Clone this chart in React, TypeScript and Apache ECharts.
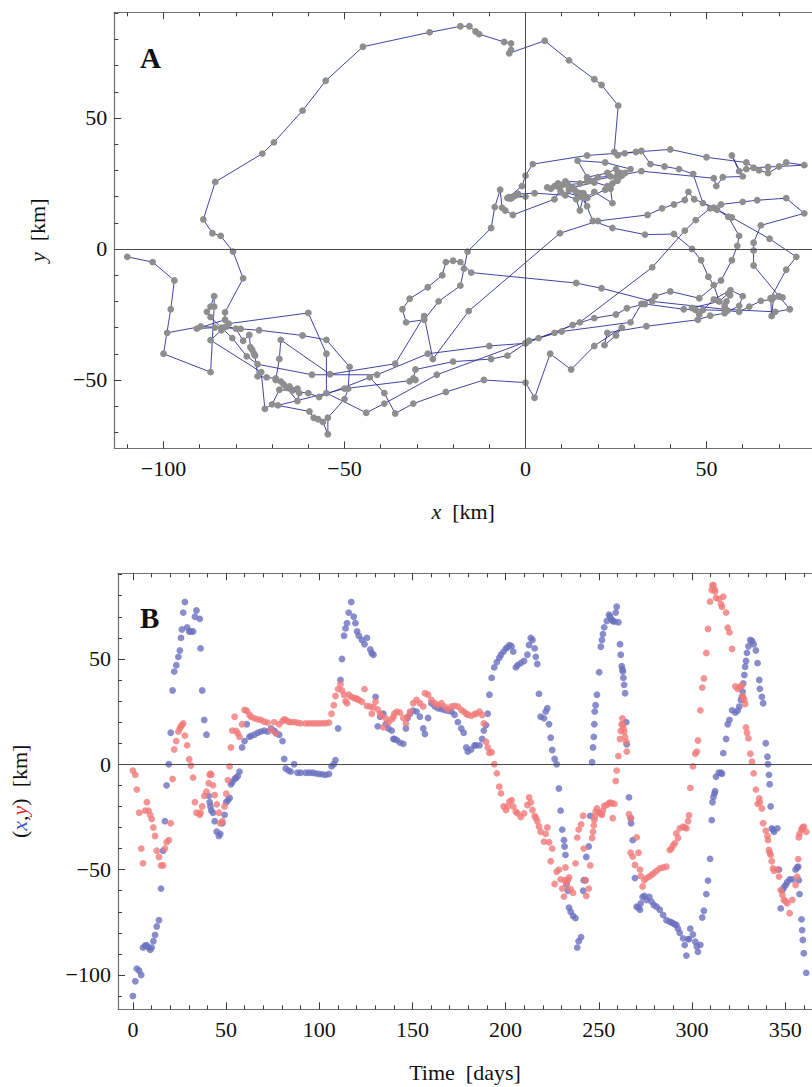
import React, { useEffect, useRef } from "react";
import * as echarts from "echarts";

// ---- data: time series of position (checked against panel A) ----
const days = [
  0, 1.3, 2.1, 3.4, 4.5, 5.4, 6.6, 7.5, 8.4, 9.3, 10.1, 11, 11.9, 12.8, 14, 15.1, 16.2, 17.2, 18.1, 19.3,
  20.3, 21.3, 22.2, 23.3, 24.4, 25.2, 25.8, 26.3, 27, 27.9, 29.1, 30.2, 31.1, 32.3, 33.3, 34.1, 35.9, 36.3, 37.2, 38.3,
  39.5, 40.7, 41.2, 41.6, 42.1, 43, 43.9, 45, 46.2, 46.9, 48, 49.2, 50.1, 51, 51.9, 52.6, 53.3, 54.6, 55.4, 56.3,
  57.2, 58.6, 59.9, 61.1, 62.5, 63.4, 65.2, 67, 68.7, 70.5, 72.3, 74.1, 75.8, 76.7, 78.5, 80.3, 81.2, 82, 83.5, 84.7,
  86.5, 88.3, 90, 92.7, 94.5, 96.3, 98, 99.8, 101.6, 103.4, 105.2, 106.6, 107.8, 108.7, 110.1, 111.4, 112.2, 113.3, 114.1, 114.9,
  115.8, 117.2, 118.5, 119.4, 120.3, 121.2, 122.9, 124.3, 125.6, 127.4, 128.2, 129.1, 130.2, 131.4, 132.7, 133.6, 134.4, 135.7, 137.1, 138.9,
  139.8, 140.3, 141.6, 143.3, 145.1, 146.5, 147.4, 148.7, 150.4, 152.2, 154, 155.8, 156.7, 158.4, 160.2, 162, 163.7, 165.5, 167.3, 169.1,
  170.9, 172.6, 174.4, 176.2, 177.5, 178.9, 179.7, 181.5, 183.3, 184.2, 186, 187.4, 188.3, 189.5, 190.4, 191.3, 192.5, 193.9, 195.3, 196.6,
  197.5, 198.9, 200.2, 201, 202, 203.2, 204.1, 205.5, 206.4, 208.1, 209.9, 211.7, 212.6, 213.5, 214.4, 215.6, 216.2, 217, 217.9, 218.8,
  220.6, 221.5, 222.4, 223.3, 224.2, 225, 226.3, 227.4, 228.6, 229.5, 230.4, 231.3, 231.6, 232.1, 232.7, 233.4, 234, 234.9, 236.2, 237.5,
  238.4, 239.2, 240.5, 241.6, 241.9, 242.8, 243.3, 244.6, 245.4, 246.4, 246.9, 247.3, 247.6, 247.8, 248.3, 249, 250.2, 251.1, 251.7, 252.2,
  252.9, 254.3, 255.5, 256.1, 257, 257.5, 258.4, 259.1, 259.6, 260.5, 261.4, 261.8, 262.3, 262.7, 262.9, 263.2, 263.6, 264.1, 264.7, 265,
  266.2, 267.1, 267.3, 268.2, 269.4, 270.3, 271.3, 272.1, 272.5, 273.5, 274.5, 275.6, 277.1, 278.3, 279.5, 281, 282.7, 284.5, 286.3, 288.1,
  289, 289.9, 290.8, 291.6, 292.5, 293.4, 295.2, 296.1, 297, 297.9, 298.4, 299.1, 300.5, 301.8, 302.6, 303.2, 304.5, 305.5, 306.4, 307.7,
  308.6, 309.7, 310.6, 311, 311.5, 312.1, 312.4, 312.9, 314.4, 315.6, 316.1, 316.8, 318.3, 319.2, 320.1, 321.5, 323.3, 324.5, 325.4, 326.3,
  326.8, 327.2, 327.5, 328.1, 328.5, 329, 329.5, 330.3, 331.3, 332.2, 333.1, 334.3, 335.2, 336.1, 336.4, 337.5, 338.2, 339.6, 340.5, 340.8,
  341.3, 341.7, 342.2, 342.8, 343.5, 344, 345.8, 346.7, 347.6, 348.5, 349.3, 350.3, 351.1, 352.4, 353.8, 355.6, 356.4, 357, 357.3, 357.7,
  358.8, 359.1, 359.5, 360, 361.3,
];

const xKm = [
  -110, -103, -97, -98, -100, -87, -86, -86, -87, -88, -87, -84, -81, -77, -74, -59, -41, -27, -10, 0,
  15, 35, 44, 47, 51, 54, 60, 64, 72, 77, 65, 63, 63, 63, 70, 73, 69, 55, 35, 21,
  14, -15, -18, -20, -22, -23, -27, -32, -34, -33, -28, -24, -18, -17, -16, -9.5, -8.5, -7, -6.5, -5.6,
  -3.5, 8, 11, 19, 13, 13.5, 14, 15, 15.5, 16, 15.5, 17, 16, 15, 14, 11, 2.5, -2, -3, -3.5,
  0, -4, -4, -4, -4, -4, -4.3, -4.6, -4.8, -5, -4.6, -1, 0, 2, 17, 40, 50, 61, 64.5, 67,
  72, 77, 70, 67, 63, 61, 59, 57, 60, 54.5, 52.7, 52, 32, 18, 22.6, 23.5, 24, 19, 17, 16,
  12, 12, 11.5, 10.3, 9.7, 17, 22, 24, 25.5, 25, 22.6, 17, 14.4, 22, 29, 27.5, 26.6, 26.2, 25.8, 25.4,
  25, 23.5, 20, 17, 15, 8, 6, 7, 9, 9, 9, 12, 16, 18.6, 24, 33, 41, 46, 48.5, 50.5,
  52, 53.5, 55, 55.5, 56.5, 56, 53.5, 46, 47, 48, 49, 52, 56.6, 60, 59, 55, 51, 47.6, 33.4, 22.6,
  21.8, 25, 26.6, 19, 12.6, 6.8, 2.5, 0, -11.5, -22, -31, -36, -39, -43, -57, -60, -68, -70, -72, -73,
  -87, -84, -82, -60, -55, -55, -44, -39, -24.5, 1, 8, 13, 19, 25, 28, 33, 43.7, 55.8, 59, 61.8,
  65, 68, 71, 70, 68.5, 68, 67.7, 72, 74.8, 67.4, 57, 52, 46.6, 45, 44, 41, 37.7, 33.7, 20, 9.5,
  -15.7, -25.6, -28, -36, -54, -67.6, -68, -69, -66, -63, -62.5, -64.4, -63, -65.2, -66.8, -67.6, -69, -71.5, -74, -74.7,
  -75, -75.5, -76, -76.3, -78, -80, -82.6, -85.8, -90.8, -83, -83, -78, -80.8, -84.2, -86.5, -89, -85.7, -72.7, -69.5, -61.6,
  -55.2, -44.9, -26.5, -18, -15.5, -13.8, -12.8, -5.9, -4, -4, -4.5, 5.3, 12, 19, 21, 25.6, 24.5, 25.5, 27.4, 30.5,
  32, 34.5, 38.4, 42.4, 46.3, 49, 52.9, 56, 59, 58.5, 57, 54, 48, 40, 35.8, 32, 29, 10, 3.6, 0,
  -5, -9.5, -20, -30.4, -31, -32, -30.4, -50, -68.4, -59.7, -58.5, -57.3, -56, -54.6, -54.6, -50, -49, -48.6, -55, -61.6,
  -73.6, -78.7, -83.4, -89.7, -99,
];

const yKm = [
  -3, -5, -12, -23, -40, -47, -22, -18, -22, -24, -26, -30, -34, -41, -44, -48, -48, -40, -37, -36,
  -28, -7, 7, 11, 15.5, 17, 18, 18.6, 19.4, 13.6, 9, 2.4, -0.6, -6.3, -18, -23, -24, -23, -20, -15,
  -13, -9, -5, -4.5, -5, -10, -14.6, -19, -23, -28, -27, -20, -14, -7.5, -1, 8, 16, 22.6, 15.8, 14.7,
  13, 19, 25.8, 25.4, 23.5, 22.6, 21.8, 21.3, 21, 20.2, 19.8, 16.3, 20, 14.7, 19, 20.5, 21.3, 21, 20.2, 20,
  20, 19.7, 19.4, 19.4, 19.4, 19.4, 19.4, 19.4, 19.4, 19.5, 19.8, 24, 28, 32.4, 35.7, 38, 35, 33, 30, 29,
  33, 32, 31.5, 31.3, 31, 30.5, 29.7, 35.7, 27.7, 27.4, 24, 27, 29.7, 26, 24, 23, 17.5, 21.8, 19.8, 21.3,
  22.5, 24, 25, 24.5, 22, 19.4, 22.6, 25, 29, 30.5, 29, 27.4, 33.7, 33, 30.5, 29, 28, 29, 27.4, 26,
  27.4, 27.7, 27.4, 25.8, 25, 24, 23.5, 23, 23.8, 24, 25, 23.4, 19.4, 10.7, 8, 5.5, 5.7, 0, -4.3, -10.6,
  -13.8, -20, -21.7, -20, -17.7, -17, -20, -22.5, -23.3, -25, -23.3, -19.3, -15.7, -18, -21.7, -24.5, -25.5, -27, -29.5, -32,
  -36.7, -33, -30, -37, -46, -40, -56.8, -51, -50, -54.6, -59, -62.8, -55, -49, -56.5, -55, -53.7, -59.3, -61, -47,
  -34.8, -31, -28.5, -24.4, -40, -55, -62.5, -59, -48, -35, -32, -29, -26.4, -25, -22.6, -21, -23, -23.5, -24, -22,
  -19.8, -19.3, -18.5, -18.2, -18.5, -25.6, -18.8, -7.9, -3, 3.9, 12, 15.8, 19, 21.8, 18.7, 17, 15.5, 13, 10.7, 6,
  -23.7, -42, -25.6, -43.8, -47.8, -34.7, -42, -50, -53, -58, -55, -54, -53.3, -52.5, -51.7, -50.6, -49.4, -49, -48.6, -40.7,
  -40, -38.5, -37.5, -32.8, -35, -30.4, -29.6, -30, -30.4, -27, -24.2, -11.2, -1, 5, 6, 11.3, 25.6, 36.4, 40.7, 52.8,
  64.2, 77.2, 82.7, 85, 85, 83, 82, 79, 78.5, 76, 74.7, 79.5, 72, 64.8, 62.6, 54.7, 37, 35.8, 36.5, 37,
  37.4, 32.4, 31.5, 30.5, 28.6, 17.5, 15, 12.3, 5, 1.2, -4.3, -12, -18.8, -16.2, -18, -21, -28, -31.5, -34, -36,
  -40.7, -42, -43, -46, -49.4, -50.5, -50, -53.3, -59.7, -62, -64.4, -65, -66, -70.7, -64.4, -57.3, -53.3, -45, -34.7, -33,
  -31, -30.5, -30, -29.6, -32,
];

// ---- tick labels ----
const xTicksA = [-100, -50, 0, 50];
const yTicksA = [-50, 0, 50];
const dayTicks = [0, 50, 100, 150, 200, 250, 300, 350];
const posTicksB = [-100, -50, 0, 50];

const SERIF = "Liberation Serif";
const fmt = (v: number) => (v < 0 ? "\u2212" + Math.abs(v) : String(v));
const minorRange = (a: number, b: number) => {
  const out: number[] = [];
  for (let v = a; v <= b; v += 10) out.push(v);
  return out;
};

const FRAME = "#707070";
const TICK = "#3c3c3c";

function axisPair(
  kind: "x" | "y",
  gridIndex: number,
  position: string,
  min: number,
  max: number,
  majors: number[],
  minors: number[],
  withLabels: boolean,
  extra: any = {}
) {
  const major: any = {
    type: "value",
    gridIndex,
    position,
    min,
    max,
    axisLine: { show: true, onZero: false, lineStyle: { color: FRAME, width: 1.2 } },
    axisTick: { show: true, inside: true, length: 7, customValues: majors, lineStyle: { color: TICK, width: 1 } },
    axisLabel: withLabels
      ? { show: true, customValues: majors, formatter: fmt, fontSize: 22, fontFamily: SERIF, color: "#111", margin: kind === "x" ? 9 : 7 }
      : { show: false },
    splitLine: { show: false },
    ...extra,
  };
  const minor: any = {
    type: "value",
    gridIndex,
    position,
    min,
    max,
    axisLine: { show: false, onZero: false },
    axisTick: { show: true, inside: true, length: 4, customValues: minors, lineStyle: { color: TICK, width: 1 } },
    axisLabel: { show: false },
    splitLine: { show: false },
  };
  return [major, minor];
}

export default function App() {
  const ref = useRef<HTMLDivElement>(null);

  useEffect(() => {
    if (!ref.current) return;
    const chart = echarts.init(ref.current, null, { renderer: "svg" });

    const A = { xMin: -113.59, xMax: 79.13, yMin: -76.07, yMax: 90.34 };
    const B = { xMin: -7.99, xMax: 364.4, yMin: -116.28, yMax: 90.65 };

    const nameStyle = (extraRich: any = {}) => ({
      fontFamily: SERIF,
      fontSize: 22,
      color: "#111",
      rich: {
        i: { fontFamily: SERIF, fontSize: 22, fontStyle: "italic", color: "#111" },
        t: { fontFamily: SERIF, fontSize: 22, color: "#111" },
        ...extraRich,
      },
    });

    const xAxes = [
      ...axisPair("x", 0, "bottom", A.xMin, A.xMax, xTicksA, minorRange(-110, 70), true, {
        name: "{i|x}{t|  [km]}",
        nameLocation: "middle",
        nameGap: 52,
        nameTextStyle: nameStyle(),
      }),
      ...axisPair("x", 0, "top", A.xMin, A.xMax, xTicksA, minorRange(-110, 70), false),
      ...axisPair("x", 1, "bottom", B.xMin, B.xMax, dayTicks, minorRange(0, 360), true, {
        name: "{t|Time  [days]}",
        nameLocation: "middle",
        nameGap: 52,
        nameTextStyle: nameStyle(),
      }),
      ...axisPair("x", 1, "top", B.xMin, B.xMax, dayTicks, minorRange(0, 360), false),
    ];

    const yAxes = [
      ...axisPair("y", 0, "left", A.yMin, A.yMax, yTicksA, minorRange(-70, 90), true, {
        name: "{i|y}{t|  [km]}",
        nameLocation: "middle",
        nameGap: 66,
        nameTextStyle: nameStyle(),
      }),
      ...axisPair("y", 1, "left", B.yMin, B.yMax, posTicksB, minorRange(-110, 90), true, {
        name: "{t|(}{bx|x}{t|,}{ry|y}{t|)  [km]}",
        nameLocation: "middle",
        nameGap: 88,
        nameTextStyle: nameStyle({
          bx: { fontFamily: SERIF, fontSize: 22, fontStyle: "italic", color: "#3f55c4" },
          ry: { fontFamily: SERIF, fontSize: 22, fontStyle: "italic", color: "#e8242c" },
        }),
      }),
    ];

    const pathData = xKm.map((x, i) => [x, yKm[i]]);
    const xSeries = days.map((t, i) => [t, xKm[i]]);
    const ySeries = days.map((t, i) => [t, yKm[i]]);

    const zeroLine = (marks: any[]) => ({
      symbol: ["none", "none"],
      silent: true,
      label: { show: false },
      lineStyle: { color: "#4a4a4a", type: "solid", width: 1 },
      data: marks,
    });

    chart.setOption({
      animation: false,
      backgroundColor: "#ffffff",
      textStyle: { fontFamily: SERIF },
      grid: [
        { left: 114.3, top: 12.3, width: 699, height: 436 },
        { left: 114.3, top: 573.3, width: 699, height: 436 },
      ],
      xAxis: xAxes,
      yAxis: yAxes,
      graphic: [
        { type: "text", left: 140, top: 43, style: { text: "A", fontFamily: SERIF, fontWeight: "bold", fontSize: 29, fill: "#111" } },
        { type: "text", left: 140, top: 603, style: { text: "B", fontFamily: SERIF, fontWeight: "bold", fontSize: 29, fill: "#111" } },
      ],
      series: [
        {
          type: "line",
          xAxisIndex: 0,
          yAxisIndex: 0,
          data: [],
          z: 1,
          markLine: zeroLine([{ xAxis: 0 }, { yAxis: 0 }]),
        },
        {
          type: "line",
          xAxisIndex: 0,
          yAxisIndex: 0,
          data: pathData,
          z: 2,
          showSymbol: true,
          symbol: "circle",
          symbolSize: 6.8,
          itemStyle: { color: "#8e8e8e" },
          lineStyle: { color: "#2e2e9c", width: 0.9 },
          silent: true,
        },
        {
          type: "line",
          xAxisIndex: 4,
          yAxisIndex: 2,
          data: [],
          z: 1,
          markLine: zeroLine([{ yAxis: 0 }]),
        },
        {
          type: "scatter",
          xAxisIndex: 4,
          yAxisIndex: 2,
          data: xSeries,
          z: 2,
          symbol: "circle",
          symbolSize: 6.8,
          itemStyle: { color: "#6b71bf" },
          silent: true,
        },
        {
          type: "scatter",
          xAxisIndex: 4,
          yAxisIndex: 2,
          data: ySeries,
          z: 3,
          symbol: "circle",
          symbolSize: 6.8,
          itemStyle: { color: "#f17979" },
          silent: true,
        },
      ],
    });

    return () => chart.dispose();
  }, []);

  return <div ref={ref} style={{ position: "absolute", left: 0, top: 0, width: 812, height: 1087 }} />;
}
